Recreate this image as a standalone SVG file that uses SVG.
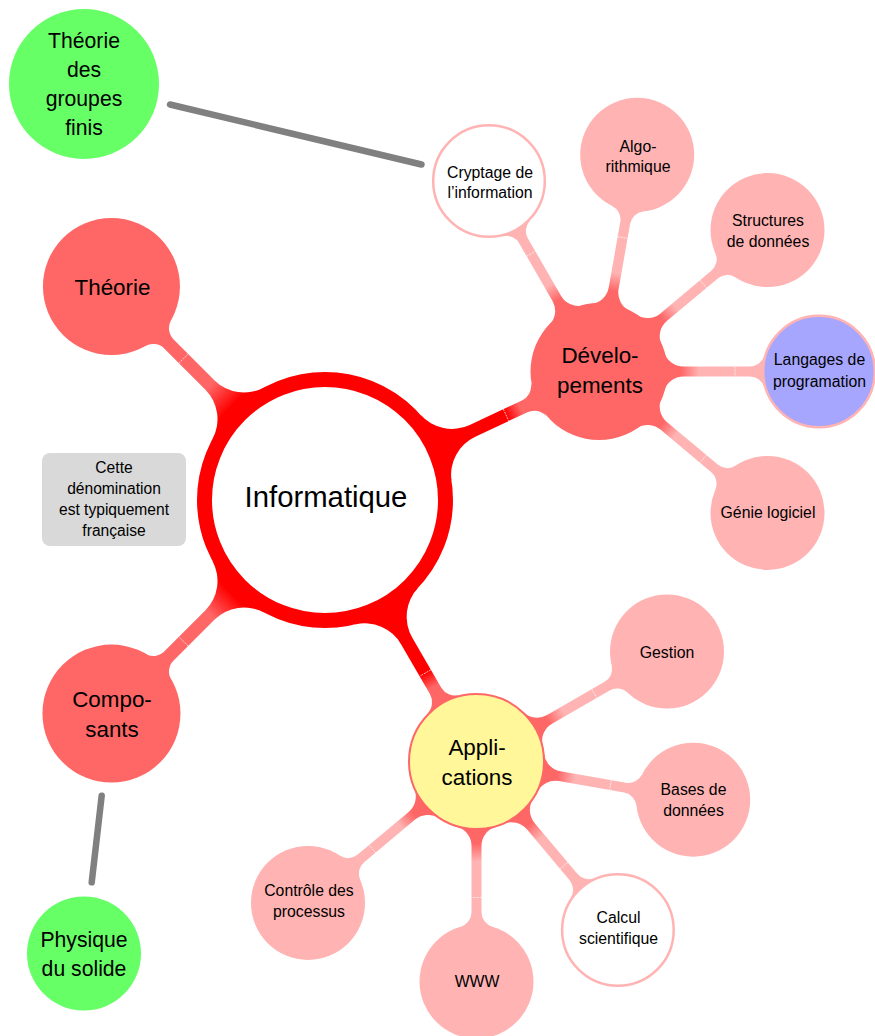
<svg xmlns="http://www.w3.org/2000/svg" xmlns:xlink="http://www.w3.org/1999/xlink" width="875" height="1036" viewBox="0 0 875 1036">
<defs>
<style>
text{font-family:"Liberation Sans",Arial,sans-serif;fill:#000;text-anchor:middle}
.t0{font-size:29.3px}
.t1{font-size:22.4px}
.t2{font-size:15.8px}
.tg{font-size:21.2px}
.tn{font-size:15.6px}
.l1{fill:#ff6666}
.l2{fill:#ffb3b3}
.l2w{fill:#ffffff;stroke:#ffb3b3;stroke-width:2.5}
.grn{fill:#66ff66}
.seam{stroke:#ffffff;stroke-width:0.8;stroke-dasharray:2 1;opacity:0.85}
.link{stroke:#808080;stroke-width:6.5;stroke-linecap:round;fill:none}
</style>
<linearGradient id="gL2" gradientUnits="userSpaceOnUse" x1="82" y1="0" x2="100" y2="0"><stop offset="0" stop-color="#ff6666"/><stop offset="1" stop-color="#ffb3b3"/></linearGradient>
<linearGradient id="gL1a" gradientUnits="userSpaceOnUse" x1="132" y1="0" x2="162" y2="0"><stop offset="0" stop-color="#ff0000"/><stop offset="1" stop-color="#ff6666"/></linearGradient>
<linearGradient id="gL1b" gradientUnits="userSpaceOnUse" x1="200" y1="0" x2="216" y2="0"><stop offset="0" stop-color="#ff0000"/><stop offset="1" stop-color="#ff6666"/></linearGradient>
<path id="barL1" d="M122.67,-36.52 A42,42 0 0 0 162.93,-6.5 L220.55,-6.5 A16,16 0 0 0 235.97,-18.24 L235.97,18.24 A16,16 0 0 0 220.55,6.5 L162.93,6.5 A42,42 0 0 0 122.67,36.52 Z"/>
<path id="barL2" d="M65.2,-19.32 A20,20 0 0 0 84.37,-5 L150.83,-5 A15,15 0 0 0 165.24,-15.83 L165.24,15.83 A15,15 0 0 0 150.83,5 L84.37,5 A20,20 0 0 0 65.2,19.32 Z"/>
</defs>
<rect width="875" height="1036" fill="#ffffff"/>

<g id="connectors">
  <line class="link" x1="170" y1="104.5" x2="421.5" y2="164.5"/>
  <line class="link" x1="101.7" y1="795.7" x2="91.7" y2="882.3"/>
  <g transform="translate(325 500) rotate(-135)"><use xlink:href="#barL1" href="#barL1" fill="url(#gL1a)"/><line class="seam" x1="200" y1="-6.5" x2="200" y2="6.5"/></g>
  <g transform="translate(325 500) rotate(135)"><use xlink:href="#barL1" href="#barL1" fill="url(#gL1a)"/><line class="seam" x1="200" y1="-6.5" x2="200" y2="6.5"/></g>
  <g transform="translate(325 500) rotate(-25.13)"><use xlink:href="#barL1" href="#barL1" fill="url(#gL1b)"/><line class="seam" x1="200" y1="-6.5" x2="200" y2="6.5"/></g>
  <g transform="translate(325 500) rotate(59.92)"><use xlink:href="#barL1" href="#barL1" fill="url(#gL1b)"/><line class="seam" x1="200" y1="-6.5" x2="200" y2="6.5"/></g>
  <g transform="translate(599 371.5) rotate(-120)"><use xlink:href="#barL2" href="#barL2" fill="url(#gL2)"/><line class="seam" x1="136" y1="-5" x2="136" y2="5"/></g>
  <g transform="translate(599 371.5) rotate(-80)"><use xlink:href="#barL2" href="#barL2" fill="url(#gL2)"/><line class="seam" x1="136" y1="-5" x2="136" y2="5"/></g>
  <g transform="translate(599 371.5) rotate(-40)"><use xlink:href="#barL2" href="#barL2" fill="url(#gL2)"/><line class="seam" x1="136" y1="-5" x2="136" y2="5"/></g>
  <g transform="translate(599 371.5) rotate(0)"><use xlink:href="#barL2" href="#barL2" fill="url(#gL2)"/><line class="seam" x1="136" y1="-5" x2="136" y2="5"/></g>
  <g transform="translate(599 371.5) rotate(40)"><use xlink:href="#barL2" href="#barL2" fill="url(#gL2)"/><line class="seam" x1="136" y1="-5" x2="136" y2="5"/></g>
  <g transform="translate(476.5 761.5) rotate(-30)"><use xlink:href="#barL2" href="#barL2" fill="url(#gL2)"/><line class="seam" x1="136" y1="-5" x2="136" y2="5"/></g>
  <g transform="translate(476.5 761.5) rotate(10)"><use xlink:href="#barL2" href="#barL2" fill="url(#gL2)"/><line class="seam" x1="136" y1="-5" x2="136" y2="5"/></g>
  <g transform="translate(476.5 761.5) rotate(50)"><use xlink:href="#barL2" href="#barL2" fill="url(#gL2)"/><line class="seam" x1="136" y1="-5" x2="136" y2="5"/></g>
  <g transform="translate(476.5 761.5) rotate(90)"><use xlink:href="#barL2" href="#barL2" fill="url(#gL2)"/><line class="seam" x1="136" y1="-5" x2="136" y2="5"/></g>
  <g transform="translate(476.5 761.5) rotate(140)"><use xlink:href="#barL2" href="#barL2" fill="url(#gL2)"/><line class="seam" x1="136" y1="-5" x2="136" y2="5"/></g>
</g>

<g id="informatique">
  <circle cx="325" cy="500" r="120.5" fill="#ffffff" stroke="#ff0000" stroke-width="15"/>
  <text class="t0" x="326" y="507">Informatique</text>
</g>

<g id="theorie">
  <circle class="l1" cx="111.45" cy="286.45" r="68.5"/>
  <text class="t1" x="112.5" y="295">Théorie</text>
</g>
<g id="composants">
  <circle class="l1" cx="111.45" cy="713.55" r="69"/>
  <text class="t1" x="112" y="707">Compo-</text>
  <text class="t1" x="112" y="736.5">sants</text>
</g>
<g id="developpements">
  <circle class="l1" cx="599" cy="371.5" r="68.5"/>
  <text class="t1" x="600" y="363">Dévelo-</text>
  <text class="t1" x="600" y="392.5">pements</text>
</g>
<g id="applications">
  <circle cx="476.5" cy="761.5" r="67.5" fill="#fff799" stroke="#ff6666" stroke-width="2"/>
  <text class="t1" x="477" y="755">Appli-</text>
  <text class="t1" x="477" y="784.5">cations</text>
</g>

<g id="cryptage">
  <circle class="l2w" cx="489" cy="181" r="55.8"/>
  <text class="t2" x="490" y="178.3">Cryptage de</text>
  <text class="t2" x="490" y="198.3">l’information</text>
</g>
<g id="algorithmique">
  <circle class="l2" cx="637.2" cy="154.8" r="57"/>
  <text class="t2" x="638" y="151.7">Algo-</text>
  <text class="t2" x="638" y="171.7">rithmique</text>
</g>
<g id="structures">
  <circle class="l2" cx="767.5" cy="230.1" r="57"/>
  <text class="t2" x="768" y="226">Structures</text>
  <text class="t2" x="768" y="246.7">de données</text>
</g>
<g id="langages">
  <circle cx="819" cy="371.5" r="55.8" fill="#a6a6ff" stroke="#ffb3b3" stroke-width="2.5"/>
  <text class="t2" x="819.5" y="365">Langages de</text>
  <text class="t2" x="819.5" y="386.7">programation</text>
</g>
<g id="genie">
  <circle class="l2" cx="767.5" cy="512.9" r="57"/>
  <text class="t2" x="768" y="517.5">Génie logiciel</text>
</g>

<g id="gestion">
  <circle class="l2" cx="667" cy="651.5" r="57"/>
  <text class="t2" x="667" y="658.3">Gestion</text>
</g>
<g id="bases">
  <circle class="l2" cx="693.2" cy="799.7" r="57"/>
  <text class="t2" x="693.5" y="795">Bases de</text>
  <text class="t2" x="693.5" y="816">données</text>
</g>
<g id="calcul">
  <circle class="l2w" cx="617.9" cy="930" r="55.8"/>
  <text class="t2" x="618.5" y="923.3">Calcul</text>
  <text class="t2" x="618.5" y="944">scientifique</text>
</g>
<g id="www">
  <circle class="l2" cx="476.5" cy="981.5" r="57"/>
  <text class="t2" x="477" y="986.7">WWW</text>
</g>
<g id="controle">
  <circle class="l2" cx="308" cy="902.9" r="57"/>
  <text class="t2" x="309" y="896">Contrôle des</text>
  <text class="t2" x="309" y="916.7">processus</text>
</g>

<g id="groupes-finis">
  <circle class="grn" cx="84" cy="84" r="75"/>
  <text class="tg" x="84" y="48">Théorie</text>
  <text class="tg" x="84" y="77">des</text>
  <text class="tg" x="84" y="106">groupes</text>
  <text class="tg" x="84" y="135">finis</text>
</g>
<g id="physique">
  <circle class="grn" cx="84" cy="953.5" r="57"/>
  <text class="tg" x="84" y="946.7">Physique</text>
  <text class="tg" x="84" y="975.7">du solide</text>
</g>

<g id="note">
  <rect x="42" y="453" width="144" height="93" rx="8" ry="8" fill="#d9d9d9"/>
  <text class="tn" x="114" y="472.5">Cette</text>
  <text class="tn" x="114" y="493.7">dénomination</text>
  <text class="tn" x="114" y="515">est typiquement</text>
  <text class="tn" x="114" y="536">française</text>
</g>
</svg>
